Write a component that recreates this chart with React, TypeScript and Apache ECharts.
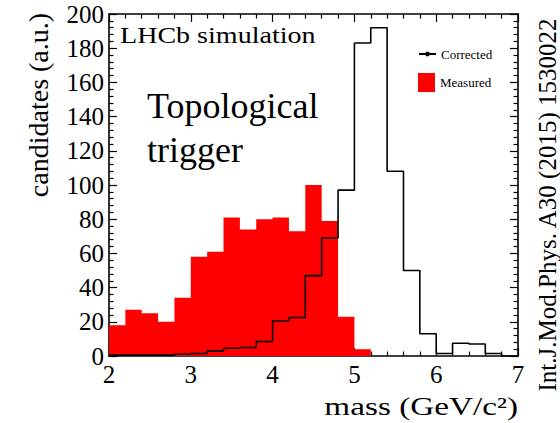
import React, { useEffect, useRef } from "react";
import * as echarts from "echarts";

// Bin edges (GeV/c^2), 0.2 wide
const binEdges = [
  2.0, 2.2, 2.4, 2.6, 2.8, 3.0, 3.2, 3.4, 3.6, 3.8, 4.0, 4.2, 4.4, 4.6, 4.8,
  5.0, 5.2, 5.4, 5.6, 5.8, 6.0, 6.2, 6.4, 6.6, 6.8, 7.0,
];
// Measured (red filled) per bin
const measured = [
  18, 27, 25, 20, 34, 58, 61, 81, 74, 80, 81, 73, 100, 79, 23, 4, 0, 0, 0, 0,
  0, 0, 0, 0, 0,
];
// Corrected (black outline) per bin
const corrected = [
  0.5, 0.5, 0.5, 0.5, 1, 1.5, 3, 4.5, 5, 8.5, 20.5, 22.5, 47, 69, 97, 183, 192,
  108, 50, 13, 1.5, 7.5, 7, 1.5, 0,
];

const FONT = "Liberation Serif";
const font = (size: number) => `${size}px "Liberation Serif", "Times New Roman", serif`;

function stepData(values: number[]) {
  return binEdges.map((e, i) => [e, i < values.length ? values[i] : values[values.length - 1]]);
}

export default function App() {
  const ref = useRef<HTMLDivElement>(null);
  useEffect(() => {
    if (!ref.current) return;
    const chart = echarts.init(ref.current, null, { renderer: "svg" });
    const axisCommon = (pos: string, showLabel: boolean, isX: boolean) => ({
      type: "value",
      position: pos,
      min: isX ? 2 : 0,
      max: isX ? 7 : 200,
      interval: isX ? 1 : 20,
      axisLine: { show: true, onZero: false, lineStyle: { color: "#000", width: 1.6 } },
      axisTick: { show: true, inside: true, length: 8, lineStyle: { color: "#000", width: 1.2 } },
      minorTick: { show: true, splitNumber: 5, length: 4.5, lineStyle: { color: "#000", width: 1.2 } },
      splitLine: { show: false },
      minorSplitLine: { show: false },
      axisLabel: showLabel
        ? isX
          ? { fontFamily: FONT, fontSize: 25, color: "#000", margin: 6 }
          : { fontFamily: FONT, fontSize: 25, color: "#000", margin: 5, padding: [6, 0, 0, 0] }
        : { show: false },
    });
    const option: any = {
      animation: false,
      backgroundColor: "#fff",
      grid: { left: 109, top: 14, right: 42, bottom: 67, containLabel: false, outerBoundsMode: "none" },
      xAxis: [axisCommon("bottom", true, true), axisCommon("top", false, true)],
      yAxis: [axisCommon("left", true, false), axisCommon("right", false, false)],
      legend: [
        {
          data: ["Corrected"],
          left: 418,
          top: 47.5,
          padding: 0,
          itemWidth: 17,
          itemHeight: 6,
          textStyle: { fontFamily: FONT, fontSize: 13, color: "#000" },
        },
        {
          data: [{ name: "Measured", icon: "rect" }],
          left: 418,
          top: 73,
          padding: 0,
          itemWidth: 17,
          itemHeight: 19,
          textStyle: { fontFamily: FONT, fontSize: 13, color: "#000" },
        },
      ],
      series: [
        {
          name: "Measured",
          type: "line",
          step: "end",
          data: stepData(measured),
          symbol: "none",
          showSymbol: false,
          lineStyle: { width: 0, opacity: 0 },
          areaStyle: { color: "#ff0000", opacity: 1 },
          itemStyle: { color: "#ff0000" },
          color: "#ff0000",
          z: 2,
          silent: true,
        },
        {
          name: "Corrected",
          type: "line",
          step: "end",
          data: stepData(corrected),
          symbol: "circle",
          showSymbol: false,
          lineStyle: { color: "#000", width: 1.6 },
          itemStyle: { color: "#000" },
          color: "#000",
          z: 3,
          silent: true,
        },
      ],
      graphic: [
        {
          type: "text",
          x: 120,
          y: 35,
          scaleX: 1.22,
          style: { text: "LHCb simulation", font: font(23), fill: "#000", align: "left", verticalAlign: "middle" },
        },
        {
          type: "text",
          x: 147,
          y: 106,
          style: { text: "Topological", font: font(36), fill: "#000", align: "left", verticalAlign: "middle" },
        },
        {
          type: "text",
          x: 147,
          y: 150,
          style: { text: "trigger", font: font(36), fill: "#000", align: "left", verticalAlign: "middle" },
        },
        {
          type: "text",
          x: 518,
          y: 406.5,
          scaleX: 1.33,
          style: { text: "mass (GeV/c²)", font: font(25), fill: "#000", align: "right", verticalAlign: "middle" },
        },
        {
          type: "text",
          x: 38.5,
          y: 105,
          rotation: Math.PI / 2,
          style: { text: "candidates (a.u.)", font: font(28), fill: "#000", align: "center", verticalAlign: "middle" },
        },
        {
          type: "text",
          x: 547,
          y: 205,
          rotation: Math.PI / 2,
          style: { text: "Int.J.Mod.Phys. A30 (2015) 1530022", font: font(25), fill: "#000", align: "center", verticalAlign: "middle" },
        },
      ],
    };
    chart.setOption(option);
    return () => chart.dispose();
  }, []);
  return (
    <div
      ref={ref}
      style={{ position: "fixed", left: 0, top: 0, width: 560, height: 423, background: "#fff" }}
    />
  );
}
